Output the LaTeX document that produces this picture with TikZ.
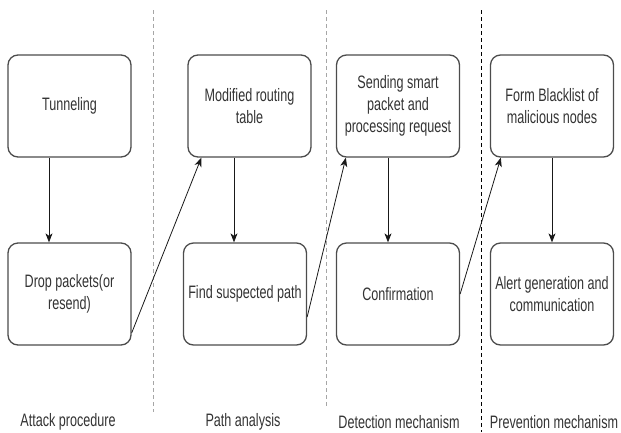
\documentclass[tikz,border=0pt]{standalone}
\usepackage{fontspec}
\newfontfamily\stagefont[FakeStretch=0.70]{Liberation Sans}
\usetikzlibrary{arrows.meta}

\begin{document}
\begin{tikzpicture}[x=1pt,y=-1pt,
    font=\stagefont\fontsize{18}{22}\selectfont,
    stage/.style={draw=black!70,line width=1.3pt,rounded corners=10pt,
      minimum width=123pt,minimum height=102pt,align=center,text=black!80,inner sep=2pt},
    lbl/.style={text=black!80,inner sep=1pt},
    flow/.style={-{Stealth[length=9pt,width=7pt,inset=2.5pt]},line width=0.8pt,black!90},
    lane/.style={dash pattern=on 4pt off 3pt,line width=0.8pt}]
        \useasboundingbox (0,0) rectangle (621,432);
        % lanes
        \draw[lane,gray!70] (153,10) -- (153,412);
        \draw[lane,gray!70] (326,10) -- (326,406);
        \draw[lane,black] (481,10) -- (481,432);
        %%
        \node[stage] (tun) at (69.5,106) {Tunneling};
        \node[stage] (drop) at (69.5,294) {Drop packets(or\\resend)};
        \node[stage] (mod) at (249.5,106) {Modified routing\\table};
        \node[stage] (find) at (245,294) {Find suspected path};
        \node[stage] (send) at (398,106) {Sending smart\\packet and\\processing request};
        \node[stage] (conf) at (398,294) {Confirmation};
        \node[stage] (black) at (552,106) {Form Blacklist of\\malicious nodes};
        \node[stage] (alert) at (552,294) {Alert generation and\\communication};
        %%
        \node[lbl] (attack) at (68,422) {Attack procedure};
        \node[lbl] (path) at (243,422) {Path analysis};
        \node[lbl] (detect) at (399,422) {Detection mechanism};
        \node[lbl] (prevent) at (554,422) {Prevention mechanism};
        %%
        \draw[flow] ([xshift=-20.5pt]tun.south) -- ([xshift=-20.5pt]drop.north);
        \draw[flow] ([xshift=-15.5pt]mod.south) -- ([xshift=-11pt]find.north);
        \draw[flow] ([xshift=-10pt]send.south) -- ([xshift=-10pt]conf.north);
        \draw[flow] (black.south) -- (alert.north);
        %%
        \draw[flow] ([yshift=-39pt]drop.east) -- ([xshift=14pt]mod.south west);
        \draw[flow] ([yshift=-23pt]find.east) -- ([xshift=10pt]send.south west);
        \draw[flow] (conf.east) -- ([xshift=11pt]black.south west);
    \end{tikzpicture}
\end{document}
